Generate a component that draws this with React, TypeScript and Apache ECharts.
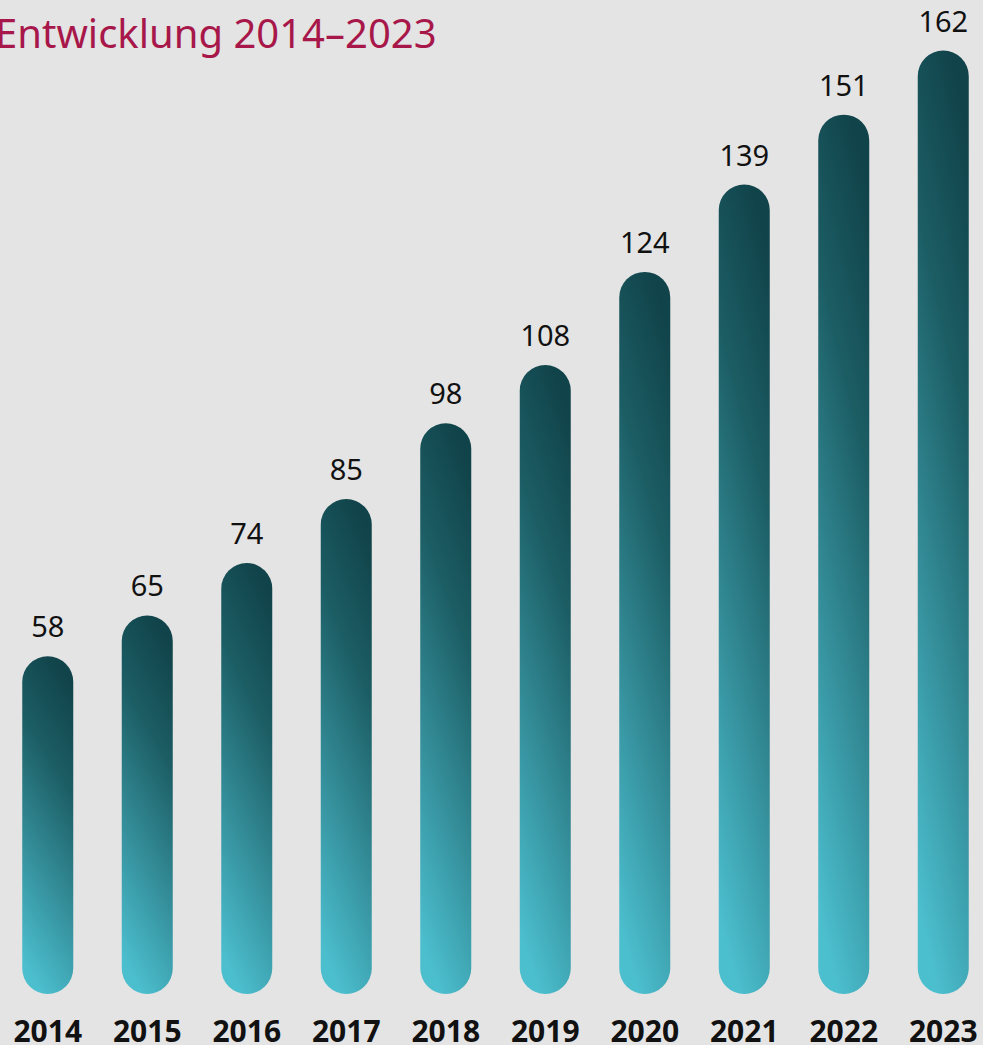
import React, { useEffect, useRef } from "react";
import * as echarts from "echarts";

const years = ["2014", "2015", "2016", "2017", "2018", "2019", "2020", "2021", "2022", "2023"];
const values = [58, 65, 74, 85, 98, 108, 124, 139, 151, 162];
const titleText = "Entwicklung 2014–2023";

export default function App() {
  const ref = useRef<HTMLDivElement>(null);
  useEffect(() => {
    if (!ref.current) return;
    const chart = echarts.init(ref.current, undefined, { renderer: "svg" });
    const font = "'Noto Sans', 'Open Sans', sans-serif";
    chart.setOption({
      animation: false,
      backgroundColor: "#e4e4e4",
      graphic: [
        {
          type: "text",
          x: -3,
          y: 12,
          style: {
            text: titleText,
            fill: "#a8174a",
            font: `normal 40px ${font}`,
          },
        },
      ],
      grid: { left: 0, width: 995, top: 4, bottom: 50, containLabel: false },
      xAxis: {
        type: "category",
        data: years,
        boundaryGap: true,
        axisLine: { show: false },
        axisTick: { show: false },
        axisLabel: {
          margin: 21,
          color: "#111",
          fontSize: 30,
          fontWeight: "bold",
          fontFamily: font,
        },
      },
      yAxis: {
        type: "value",
        min: 0,
        max: 170,
        show: false,
        splitLine: { show: false },
      },
      series: [
        {
          type: "bar",
          data: values,
          barWidth: 51,
          itemStyle: {
            borderRadius: 26,
            color: new echarts.graphic.LinearGradient(0.62, 0, 0.38, 1, [
              { offset: 0, color: "#11434a" },
              { offset: 0.3, color: "#1c5d64" },
              { offset: 1, color: "#4cbfcf" },
            ]),
          },
          label: {
            show: true,
            position: "top",
            distance: 16,
            color: "#111",
            fontSize: 29,
            fontFamily: font,
          },
        },
      ],
    });
    return () => chart.dispose();
  }, []);
  return (
    <div
      ref={ref}
      style={{ position: "fixed", left: -2, top: 0, width: 1000, height: 1045 }}
    />
  );
}
